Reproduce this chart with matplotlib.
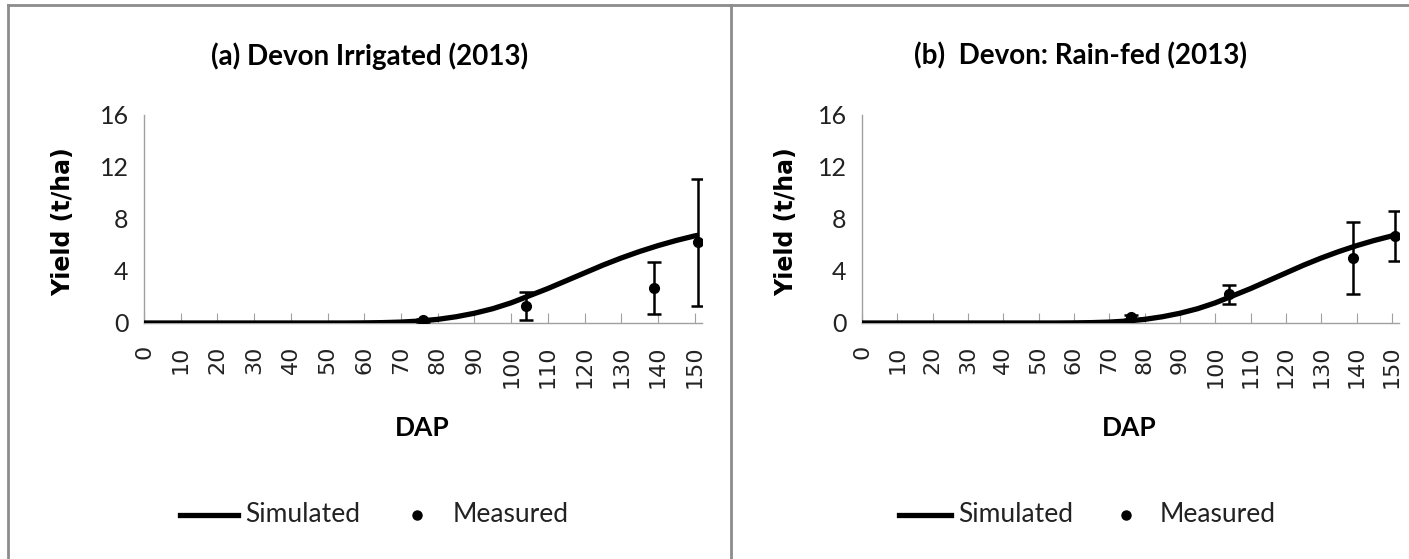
import matplotlib
matplotlib.use("Agg")
import matplotlib.pyplot as plt
from matplotlib.lines import Line2D

plt.rcParams['font.family'] = ['Lato', 'DejaVu Sans']

# simulated yield (t/ha) against days after planting
sim_dap = [0, 5, 10, 15, 20, 25, 30, 35, 40, 45, 50, 55, 60, 65, 70, 75, 80, 85,
           90, 95, 100, 105, 110, 115, 120, 125, 130, 135, 140, 145, 150, 151]
sim_irrigated = [0, 0, 0, 0, 0, 0, 0, 0, 0, 0, 0, 0, 0.01, 0.03, 0.07, 0.15, 0.28, 0.48,
                 0.75, 1.1, 1.55, 2.1, 2.65, 3.25, 3.85, 4.45, 5.0, 5.5, 5.95, 6.35, 6.7, 6.75]
sim_rainfed = [0, 0, 0, 0, 0, 0, 0, 0, 0, 0, 0, 0, 0.01, 0.03, 0.07, 0.15, 0.28, 0.48,
               0.75, 1.1, 1.55, 2.1, 2.65, 3.25, 3.85, 4.45, 5.0, 5.5, 5.95, 6.35, 6.7, 6.75]

# measured yield with standard deviation
meas_dap = [76, 104, 139, 151]
meas_irrigated = [0.2, 1.3, 2.7, 6.2]
err_irrigated = [0.1, 1.05, 2.0, 4.9]
meas_rainfed = [0.45, 2.2, 5.0, 6.7]
err_rainfed = [0.15, 0.75, 2.75, 1.95]

titles = ["(a) Devon Irrigated (2013)", "(b)  Devon: Rain-fed (2013)"]
xticks = list(range(0, 151, 10))
yticks = [0, 4, 8, 12, 16]

W, H = 1409, 559
fig = plt.figure(figsize=(W / 100, H / 100), dpi=100)


def fx(px):
    return px / W


def fy(py):
    return 1 - py / H


# chart frames
grey = "#8c8c8c"
fig.add_artist(Line2D([fx(8), 1], [fy(5)] * 2, color=grey, lw=2))
fig.add_artist(Line2D([fx(8)] * 2, [0, fy(5)], color=grey, lw=2))
fig.add_artist(Line2D([fx(731)] * 2, [0, fy(5)], color=grey, lw=2))

panels = [
    dict(rect=[fx(144), fy(323), fx(558), fy(115) - fy(323)], sim=sim_irrigated,
         meas=meas_irrigated, err=err_irrigated, ylab=63, title=370, dap=422,
         leg=(180, 238, 245, 417, 453)),
    dict(rect=[fx(862), fy(323), fx(537), fy(115) - fy(323)], sim=sim_rainfed,
         meas=meas_rainfed, err=err_rainfed, ylab=786, title=1080, dap=1129,
         leg=(899, 951, 958, 1126, 1160)),
]

for i, p in enumerate(panels):
    ax = fig.add_axes(p["rect"])
    ax.plot(sim_dap, p["sim"], color="black", lw=3.8, solid_capstyle="butt", zorder=3)
    ax.errorbar(meas_dap, p["meas"], yerr=p["err"], fmt="o", color="black", ms=7,
                elinewidth=1.8, capsize=5, capthick=1.8, zorder=4)
    ax.set_xlim(0, 152)
    ax.set_ylim(0, 16)
    ax.set_xticks(xticks)
    ax.set_xticklabels([str(t) for t in xticks], rotation=90, family="DejaVu Sans",
                       fontsize=16, color="#222222")
    ax.set_yticks(yticks)
    ax.set_yticklabels([str(t) for t in yticks], fontsize=18, color="#222222")
    for s in ["top", "right"]:
        ax.spines[s].set_visible(False)
    for s in ["left", "bottom"]:
        ax.spines[s].set_color("#a0a0a0")
        ax.spines[s].set_linewidth(1)
    ax.tick_params(axis="x", direction="in", length=7, color="#a0a0a0", pad=16)
    ax.tick_params(axis="y", length=0, pad=11)
    ax.patch.set_alpha(0)

    fig.text(fx(p["ylab"]), fy(222), "Yield (t/ha)", rotation=90, fontsize=17,
             fontweight="bold", ha="center", va="center", family="DejaVu Sans")
    fig.text(fx(p["title"]), fy(56), titles[i], fontsize=20, fontweight="bold",
             ha="center", va="center")
    fig.text(fx(p["dap"]), fy(428), "DAP", fontsize=19, fontweight="bold",
             ha="center", va="center")

    # legend row under each chart
    l0, l1, t1, dot, t2 = p["leg"]
    fig.add_artist(Line2D([fx(l0), fx(l1)], [fy(515)] * 2, color="black", lw=3.8))
    fig.text(fx(t1), fy(515), "Simulated", fontsize=19, color="#222222",
             ha="left", va="center")
    fig.add_artist(Line2D([fx(dot)], [fy(515)], marker="o", color="black",
                          ms=6.5, lw=0))
    fig.text(fx(t2), fy(515), "Measured", fontsize=19, color="#222222",
             ha="left", va="center")

fig.savefig("out.png", dpi=100)
